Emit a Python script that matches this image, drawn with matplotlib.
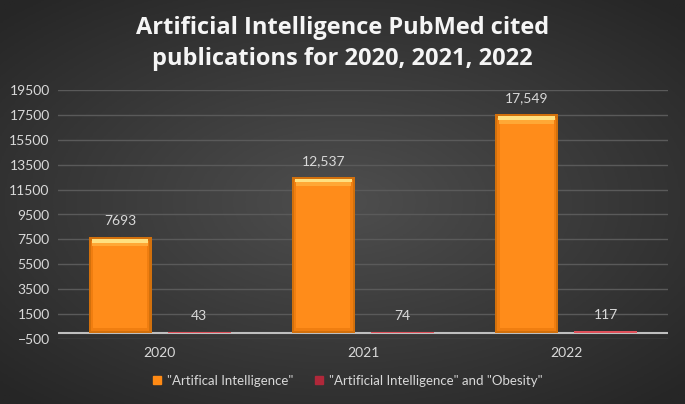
import matplotlib.pyplot as plt
import numpy as np
from matplotlib.colors import LinearSegmentedColormap

years = ["2020", "2021", "2022"]
ai_counts = [7693, 12537, 17549]
ai_obesity_counts = [43, 74, 117]
ai_labels = ["7693", "12,537", "17,549"]
obesity_labels = ["43", "74", "117"]
y_ticks = list(range(-500, 19501, 2000))

plt.rcParams["font.family"] = ["Lato", "DejaVu Sans"]

fig = plt.figure(figsize=(6.85, 4.04), dpi=100)

# radial dark background
bg = fig.add_axes([0, 0, 1, 1], zorder=-10)
yy, xx = np.mgrid[-1:1:300j, -1:1:500j]
r = np.clip(np.sqrt((xx * 0.85) ** 2 + (yy * 0.9) ** 2), 0, 1.2)
bg_cmap = LinearSegmentedColormap.from_list("bg", ["#4E4E4E", "#3A3A3A", "#262626"])
bg.imshow(r, cmap=bg_cmap, vmin=0, vmax=1.2, aspect="auto", extent=[0, 1, 0, 1])
bg.set_axis_off()

ax = fig.add_axes([58 / 685, (404 - 339) / 404, 610 / 685, 249 / 404])
ax.patch.set_alpha(0)

x = np.arange(len(years))
w = 0.31
off = 0.195
xa = x - off

# orange bars with a simple bevel look
ax.bar(xa, ai_counts, w, color="#D2700C", zorder=3)
ax.bar(xa, [v - 450 for v in ai_counts], w * 0.93, bottom=150, color="#F07E10", zorder=4)
ax.bar(xa, [v - 1000 for v in ai_counts], w * 0.86, bottom=400, color="#FF8C1A", zorder=5)
ax.bar(xa, [600] * 3, w * 0.88, bottom=[v - 750 for v in ai_counts], color="#FFA836", zorder=6)
ax.bar(xa, [300] * 3, w * 0.9, bottom=[v - 450 for v in ai_counts], color="#FFE080", zorder=7)
ax.bar(x + off, ai_obesity_counts, w, color="#E0505A", zorder=3)

for xi, v, lab in zip(xa, ai_counts, ai_labels):
    ax.text(xi, v + 800, lab, ha="center", va="bottom", color="#D9D9D9", fontsize=10)
for xi, v, lab in zip(x + off, ai_obesity_counts, obesity_labels):
    ax.text(xi, v + 800, lab, ha="center", va="bottom", color="#D9D9D9", fontsize=10)

ax.set_xlim(-0.5, 2.5)
ax.set_ylim(-500, 19500)
ax.set_yticks(y_ticks)
ax.set_xticks(x)
ax.set_xticklabels(years)
ax.tick_params(colors="#D9D9D9", labelsize=10, length=0, pad=6)
ax.grid(axis="y", color="#5A5A5A", linewidth=1, zorder=0)
ax.axhline(0, color="#BFBFBF", linewidth=1.5, zorder=2)
for s in ax.spines.values():
    s.set_visible(False)

fig.text(0.5, 0.931, "Artificial Intelligence PubMed cited", ha="center", va="center",
         color="#F5F5F5", fontsize=17, fontweight="bold", family="Open Sans")
fig.text(0.5, 0.854, "publications for 2020, 2021, 2022", ha="center", va="center",
         color="#F5F5F5", fontsize=17, fontweight="bold", family="Open Sans")

h1 = plt.Line2D([], [], marker="s", linestyle="", color="#FF8A14", markersize=6)
h2 = plt.Line2D([], [], marker="s", linestyle="", color="#B0283A", markersize=6)
fig.legend([h1, h2], ['"Artifical Intelligence"', '"Artificial Intelligence" and "Obesity"'],
           loc="center", bbox_to_anchor=(0.505, 0.057), ncol=2, frameon=False,
           labelcolor="#D9D9D9", fontsize=9.5, handletextpad=0.1, columnspacing=1.4,
           handlelength=1.2)

fig.savefig("out.png", dpi=100)
